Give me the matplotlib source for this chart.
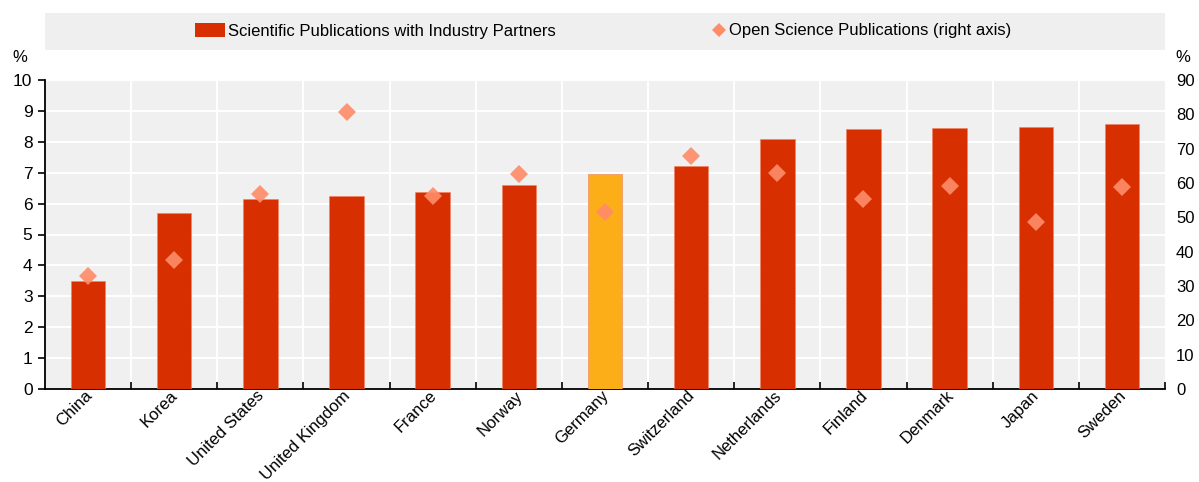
import matplotlib
matplotlib.use("Agg")
import matplotlib.pyplot as plt
from matplotlib.patches import Rectangle
from matplotlib.lines import Line2D
import matplotlib.transforms as mtransforms
import numpy as np

plt.rcParams['font.family'] = ['Liberation Sans', 'DejaVu Sans']

countries = ["China", "Korea", "United States", "United Kingdom", "France", "Norway",
             "Germany", "Switzerland", "Netherlands", "Finland", "Denmark", "Japan", "Sweden"]
industry = [3.48, 5.70, 6.15, 6.24, 6.38, 6.61, 6.97, 7.22, 8.10, 8.42, 8.44, 8.49, 8.59]
open_sci = [32.8, 37.7, 56.8, 80.8, 56.1, 62.6, 51.5, 68.0, 62.9, 55.2, 59.1, 48.5, 58.9]
left_ticks = list(range(0, 11))
right_ticks = list(range(0, 91, 10))

RED = "#D72F00"
GOLD = "#FBAE17"
SALMON = "#FF8C69"
BG = "#F0F0F0"

fig = plt.figure(figsize=(11.99, 4.82), dpi=100)
ax = fig.add_axes([45/1199, 1-389/482, 1120/1199, 309/482])
ax.set_facecolor(BG)

x = np.arange(len(countries))
colors = [GOLD if c == "Germany" else RED for c in countries]
ax.bar(x, industry, width=0.4, color=colors, edgecolor="#F08060", linewidth=0.4, zorder=3)

ax.set_xlim(-0.5, len(countries) - 0.5)
ax.set_ylim(0, 10)
ax.set_yticks(left_ticks)
ax.set_yticklabels([str(v) for v in left_ticks], fontsize=12.5)

for yv in left_ticks[1:]:
    ax.axhline(yv, color="white", lw=1.4, zorder=1)
for b in np.arange(0.5, len(countries) - 0.5, 1):
    ax.axvline(b, color="white", lw=1.4, zorder=1)

ax.set_xticks(x)
ax.set_xticklabels(countries, rotation=45, ha="right", rotation_mode="anchor", fontsize=12)
ax.tick_params(axis="x", length=0, pad=2)
offset = mtransforms.ScaledTranslation(-4/100, 4/100, fig.dpi_scale_trans)
for lbl in ax.get_xticklabels():
    lbl.set_transform(lbl.get_transform() + offset)
ax.set_xticks(np.arange(0.5, len(countries) - 0.5 + 0.01, 1), minor=True)
ax.tick_params(axis="x", which="minor", direction="in", length=5, width=1.2, color="black")
ax.tick_params(axis="y", direction="out", length=5, width=1.2, pad=4)

for s in ["top", "right"]:
    ax.spines[s].set_visible(False)
ax.spines["left"].set_linewidth(1.3)
ax.spines["bottom"].set_linewidth(1.3)

ax2 = ax.twinx()
ax2.set_ylim(0, 90)
ax2.set_yticks(right_ticks)
ax2.set_yticklabels([str(v) for v in right_ticks], fontsize=12)
ax2.tick_params(axis="y", length=0, pad=8)
for s in ["top", "right", "left", "bottom"]:
    ax2.spines[s].set_visible(False)
ax2.plot(x, open_sci, linestyle="none", marker="D", markersize=9, color=SALMON,
         markeredgewidth=0, alpha=0.92, zorder=5)

fig.text(20/1199, 1-57/482, "%", fontsize=12, ha="center", va="center")
fig.text(1183/1199, 1-57/482, "%", fontsize=12, ha="center", va="center")

# legend band
fig.patches.append(Rectangle((45/1199, 1-50/482), 1120/1199, 37/482, transform=fig.transFigure,
                             facecolor="#EFEFEF", edgecolor="none", zorder=0))
h1 = Rectangle((0, 0), 1, 1, facecolor=RED, edgecolor="none")
h2 = Line2D([], [], linestyle="none", marker="D", markersize=7, color=SALMON, markeredgewidth=0)
fig.legend([h1], ["Scientific Publications with Industry Partners"],
           loc="center left", bbox_to_anchor=(195/1199, 1-31/482), frameon=False, fontsize=12,
           handlelength=1.8, handleheight=0.9, handletextpad=0.15, borderpad=0, borderaxespad=0)
fig.legend([h2], ["Open Science Publications (right axis)"],
           loc="center left", bbox_to_anchor=(713/1199, 1-31/482), frameon=False, fontsize=12,
           handlelength=0.7, handletextpad=0.25, borderpad=0, borderaxespad=0)

fig.savefig("out.png", dpi=100)
